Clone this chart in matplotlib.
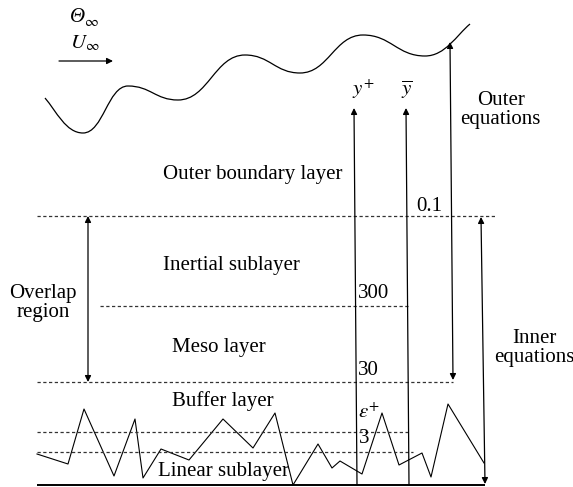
import matplotlib
matplotlib.use("Agg")
import matplotlib.pyplot as plt
from matplotlib.path import Path
from matplotlib.patches import PathPatch

plt.rcParams["font.family"] = ["Liberation Serif", "DejaVu Serif"]
plt.rcParams["mathtext.fontset"] = "stix"

# free-stream interface: turning points of the wavy edge
wave_x = [45, 83, 128, 178, 245, 300, 363, 425, 470]
wave_y = [98, 133, 86, 100, 55, 73, 35, 56, 24]

# near-wall roughness trace
wall_x = [37, 68, 84, 114, 135, 143, 161, 189, 223, 253, 275, 293, 318, 332,
          340, 362, 382, 399, 422, 431, 448, 484]
wall_y = [454, 464, 409, 476, 419, 478, 449, 460, 419, 448, 413, 485, 444, 468,
          461, 474, 413, 465, 453, 477, 404, 463]

# layer boundaries (level, start, end)
levels = [216, 306, 382, 432, 452]
level_x0 = [37, 100, 37, 37, 37]
level_x1 = [495, 410, 453, 410, 413]
level_tags = ["0.1", "300", "30", r"$\varepsilon^{+}$", "3"]

layer_names = ["Outer boundary layer", "Inertial sublayer", "Meso layer",
               "Buffer layer", "Linear sublayer"]

wall_level = 485
FS = 15

fig = plt.figure(figsize=(5.73, 4.87), dpi=100)
ax = fig.add_axes([0, 0, 1, 1])
ax.set_xlim(0, 573)
ax.set_ylim(487, 0)
ax.axis("off")

# wavy outer edge as a chain of cubic Beziers with flat tangents at the turning points
verts = [(wave_x[0], wave_y[0])]
codes = [Path.MOVETO]
for i in range(len(wave_x) - 1):
    x0, y0, x1, y1 = wave_x[i], wave_y[i], wave_x[i + 1], wave_y[i + 1]
    dx = x1 - x0
    c1 = (x0 + 0.45 * dx, y0)
    c2 = (x1 - 0.45 * dx, y1)
    if i == 0:
        c1 = (x0 + 0.3 * dx, y0 + 0.35 * dx)
    if i == len(wave_x) - 2:
        c2 = (x1 - 0.3 * dx, y1 + 0.25 * dx)
    verts += [c1, c2, (x1, y1)]
    codes += [Path.CURVE4] * 3
ax.add_patch(PathPatch(Path(verts, codes), fill=False, lw=0.9, ec="k"))

# wall and roughness
ax.plot([37, 485], [wall_level, wall_level], color="k", lw=1.4, solid_capstyle="butt")
ax.plot(wall_x, wall_y, color="k", lw=0.8)

for yl, xa, xb in zip(levels, level_x0, level_x1):
    ax.plot([xa, xb], [yl, yl], color="#333333", lw=0.9, ls=(0, (2.6, 2.0)))

arrow = dict(arrowstyle="-|>", color="k", lw=0.9, mutation_scale=9,
             shrinkA=0, shrinkB=0)
both = dict(arrow, arrowstyle="<|-|>")

def draw_arrow(p0, p1, props):
    ax.annotate("", xy=p1, xytext=p0, arrowprops=props)

draw_arrow((59, 61), (113, 61), arrow)
draw_arrow((357, wall_level), (354, 108), arrow)
draw_arrow((409, wall_level), (406, 108), arrow)
draw_arrow((88, levels[2]), (88, levels[0]), both)
draw_arrow((450, 42), (453, 380), both)
draw_arrow((481, 217), (485, 484), both)

txt = dict(fontsize=FS, va="baseline", color="k")

# free-stream symbols
ax.text(70, 22, "\u0398", style="italic", **txt)
ax.text(84, 26, r"$\infty$", fontsize=FS * 0.72, va="baseline")
ax.text(70, 48, r"$U_{\infty}$", **txt)

ax.text(163, 179, layer_names[0], **txt)
ax.text(163, 270, layer_names[1], **txt)
ax.text(172, 352, layer_names[2], **txt)
ax.text(172, 406, layer_names[3], **txt)
ax.text(158, 476, layer_names[4], **txt)

ax.text(43, 298, "Overlap", ha="center", **txt)
ax.text(43, 317, "region", ha="center", **txt)
ax.text(501, 105, "Outer", ha="center", **txt)
ax.text(500, 124, "equations", ha="center", **txt)
ax.text(534, 343, "Inner", ha="center", **txt)
ax.text(534, 362, "equations", ha="center", **txt)

ax.text(352, 95, r"$y^{+}$", **txt)
ax.text(401, 95, r"$\overline{y}$", **txt)

ax.text(416, 211, level_tags[0], **txt)
ax.text(358, 298, level_tags[1], **txt)
ax.text(358, 375, level_tags[2], **txt)
ax.text(358, 418, level_tags[3], **txt)
ax.text(359, 443, level_tags[4], **txt)

fig.savefig("out.png", dpi=100)
